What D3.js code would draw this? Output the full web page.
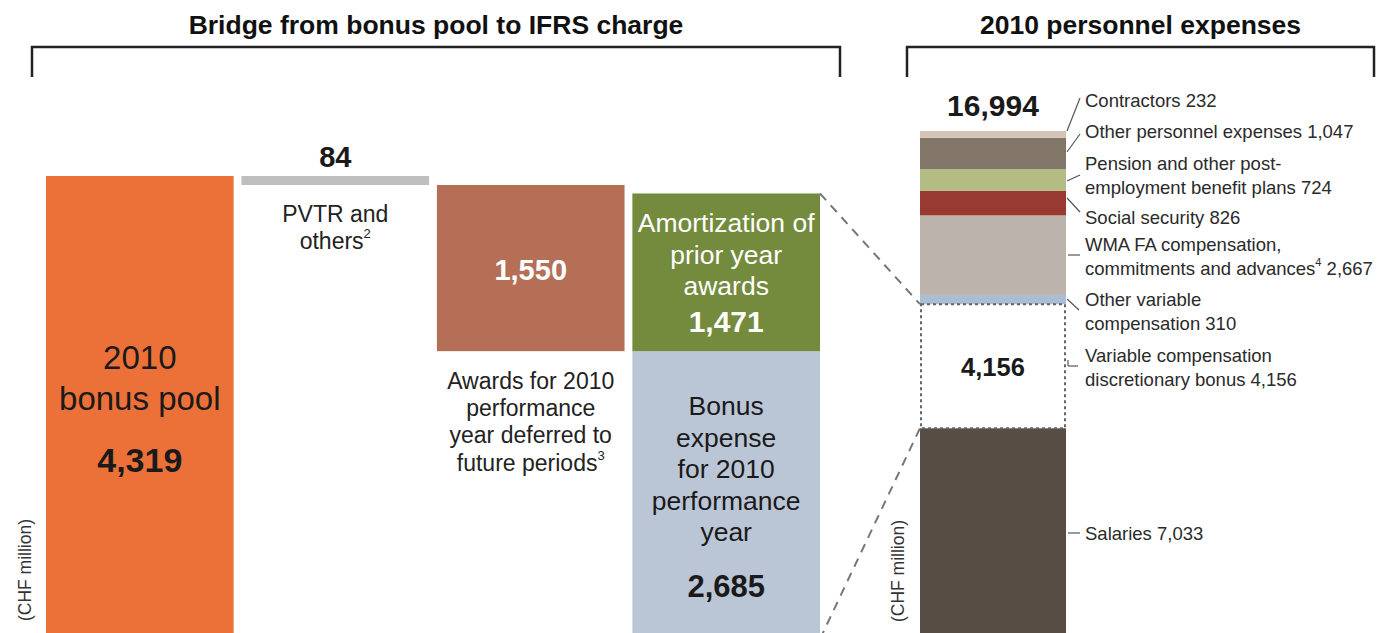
<!DOCTYPE html>
<html>
<head>
<meta charset="utf-8">
<script src="https://cdn.jsdelivr.net/npm/d3@7"></script>
<style>
  body { margin: 0; background: #fff; }
  svg { display: block; font-family: "Liberation Sans", Arial, sans-serif; }
</style>
</head>
<body>
<div class="container"></div>
<script>
// bridge from bonus pool to IFRS charge (CHF million)
const bridgeColumns = ["pool", "pvtr", "deferred", "expense"]
const bridgeNames = ["2010 bonus pool", "PVTR and others", "Awards deferred", "Bonus expense", "Amortization of prior year awards"]
const bridgeValues = [4319, -84, -1550, 2685, 1471]
const bridgeCols = ["pool", "pvtr", "deferred", "expense", "expense"]
const bridgeColors = ["#ec7139", "#bebebe", "#b46f56", "#bac5d6", "#748b3e"]

// 2010 personnel expenses, bottom to top
const personnelNames = ["Salaries", "Variable compensation discretionary bonus", "Other variable compensation",
  "WMA FA compensation, commitments and advances", "Social security", "Pension and other post-employment benefit plans",
  "Other personnel expenses", "Contractors"]
const personnelValues = [7033, 4156, 310, 2667, 826, 724, 1047, 232]
const personnelColors = ["#574d44", "none", "#a9bed3", "#bbb3ac", "#983a31", "#b3bc82", "#827669", "#d3c4b6"]
const personnelTotal = 16994

const w = 1381
const h = 633
const baseY = 639

const svg = d3.select(".container")
  .append("svg")
  .attr("width", w)
  .attr("height", h)

// brackets + titles
const brackets = [
  {x1: 32, x2: 840, title: "Bridge from bonus pool to IFRS charge"},
  {x1: 907, x2: 1374, title: "2010 personnel expenses"}
]
brackets.forEach(b => {
  svg.append("path")
    .attr("d", `M${b.x1},77 V47 H${b.x2} V77`)
    .attr("fill", "none")
    .attr("stroke", "#222")
    .attr("stroke-width", 2.5)
  svg.append("text")
    .attr("x", (b.x1 + b.x2) / 2)
    .attr("y", 25)
    .attr("text-anchor", "middle")
    .attr("dominant-baseline", "central")
    .attr("font-size", 26.5)
    .attr("font-weight", "bold")
    .attr("fill", "#111")
    .text(b.title)
})

// ---- left waterfall ----
const xScale = d3.scaleBand().domain(bridgeColumns).range([46, 820]).paddingInner(0.04)
const yScale = d3.scaleLinear().domain([0, 4319]).range([baseY, 176])

// running totals for the waterfall
let running = 0
const steps = bridgeValues.map((v, i) => {
  let lo, hi
  if (i === 0) { lo = 0; hi = v; running = v }
  else if (v < 0) { hi = running; lo = running + v; running = lo }
  else if (i === 3) { lo = 0; hi = v; running = v }
  else { lo = running; hi = running + v; running = hi }
  return {name: bridgeNames[i], col: bridgeCols[i], lo, hi, color: bridgeColors[i]}
})

svg.selectAll("rect.bridge")
  .data(steps)
  .enter()
  .append("rect")
  .attr("class", "bridge")
  .attr("x", d => xScale(d.col))
  .attr("y", d => yScale(d.hi))
  .attr("width", xScale.bandwidth())
  .attr("height", d => yScale(d.lo) - yScale(d.hi))
  .attr("fill", d => d.color)

const cx = c => xScale(c) + xScale.bandwidth() / 2
const fmt = d3.format(",")

const addText = (x, y, str, size, opts = {}) => {
  return svg.append("text")
    .attr("x", x)
    .attr("y", y)
    .attr("text-anchor", opts.anchor || "middle")
    .attr("dominant-baseline", "central")
    .attr("font-size", size)
    .attr("font-weight", opts.bold ? "bold" : "normal")
    .attr("fill", opts.fill || "#1a1a1a")
    .text(str)
}

// bonus pool
addText(cx("pool"), 357, "2010", 33)
addText(cx("pool"), 398, "bonus pool", 33)
addText(cx("pool"), 460, fmt(bridgeValues[0]), 34, {bold: true})

// pvtr
addText(cx("pvtr"), 157, fmt(-bridgeValues[1]), 29, {bold: true})
addText(cx("pvtr"), 214, "PVTR and", 23, {fill: "#222"})
addText(cx("pvtr"), 241, "others", 23, {fill: "#222"})
  .append("tspan").attr("baseline-shift", "super").attr("font-size", 13).text("2")

// deferred
addText(cx("deferred"), (yScale(steps[2].hi) + yScale(steps[2].lo)) / 2 + 2, fmt(-bridgeValues[2]), 29, {bold: true, fill: "#fff"})
const deferredLines = ["Awards for 2010", "performance", "year deferred to", "future periods"]
deferredLines.forEach((t, i) => {
  const el = addText(cx("deferred"), 381 + i * 27.2, t, 23, {fill: "#222"})
  if (i === 3) el.append("tspan").attr("baseline-shift", "super").attr("font-size", 13).text("3")
})

// amortization
const amortLines = ["Amortization of", "prior year", "awards"]
amortLines.forEach((t, i) => addText(cx("expense"), 223 + i * 31.5, t, 26.5, {fill: "#fff"}))
addText(cx("expense"), 321, fmt(bridgeValues[4]), 30, {bold: true, fill: "#fff"})

// bonus expense
const expenseLines = ["Bonus", "expense", "for 2010", "performance", "year"]
expenseLines.forEach((t, i) => addText(cx("expense"), 406 + i * 31.6, t, 26.5))
addText(cx("expense"), 586, fmt(bridgeValues[3]), 31, {bold: true})

// ---- right stack ----
const sx = 920, sw = 146
const yR = d3.scaleLinear().domain([0, personnelTotal]).range([638, 131])
let acc = 0
const segs = personnelValues.map((v, i) => {
  const s = {name: personnelNames[i], lo: acc, hi: acc + v, color: personnelColors[i]}
  acc += v
  return s
})

svg.selectAll("rect.stack")
  .data(segs)
  .enter()
  .append("rect")
  .attr("class", "stack")
  .attr("x", sx)
  .attr("y", d => yR(d.hi))
  .attr("width", sw)
  .attr("height", d => yR(d.lo) - yR(d.hi))
  .attr("fill", d => d.color === "none" ? "#fff" : d.color)

// dotted box for discretionary bonus
const bonusSeg = segs[1]
svg.append("rect")
  .attr("x", sx + 1)
  .attr("y", yR(bonusSeg.hi))
  .attr("width", sw - 2)
  .attr("height", yR(bonusSeg.lo) - yR(bonusSeg.hi))
  .attr("fill", "none")
  .attr("stroke", "#666")
  .attr("stroke-width", 2)
  .attr("stroke-dasharray", "3,3")

addText(sx + sw / 2, 105, fmt(personnelTotal), 30, {bold: true})
addText(sx + sw / 2, 367, fmt(bonusSeg.hi - bonusSeg.lo), 25.5, {bold: true})

// connectors from bridge to stack
const gx = xScale("expense") + xScale.bandwidth()
const connectors = [
  [gx, yScale(steps[4].hi), sx, yR(bonusSeg.hi)],
  [gx, yScale(0), sx, yR(bonusSeg.lo)]
]
connectors.forEach(c => {
  svg.append("line")
    .attr("x1", c[0]).attr("y1", c[1])
    .attr("x2", c[2]).attr("y2", c[3])
    .attr("stroke", "#777")
    .attr("stroke-width", 2)
    .attr("stroke-dasharray", "9,7")
})

// labels with leader lines
const labelX = 1085
const labelLines = [
  ["Salaries 7,033"],
  ["Variable compensation", "discretionary bonus 4,156"],
  ["Other variable", "compensation 310"],
  ["WMA FA compensation,", "commitments and advances|4| 2,667"],
  ["Social security 826"],
  ["Pension and other post-", "employment benefit plans 724"],
  ["Other personnel expenses 1,047"],
  ["Contractors 232"]
]
const labelY = [533, 355, 299, 244, 217, 163, 131, 100]
const leaders = [
  [1068, 533, 1080, 533],
  [1068, 366, 1078, 366],
  [1067, 299, 1079, 310],
  [1068, 255, 1080, 255],
  [1067, 198, 1080, 212],
  [1067, 181, 1080, 175],
  [1067, 152, 1080, 134],
  [1067, 131, 1080, 98]
]
labelLines.forEach((lines, i) => {
  lines.forEach((t, j) => {
    const el = svg.append("text")
      .attr("x", labelX)
      .attr("y", labelY[i] + j * 23.5)
      .attr("dominant-baseline", "central")
      .attr("font-size", 18.5)
      .attr("fill", "#2a2a2a")
    const parts = t.split("|")
    el.append("tspan").text(parts[0])
    if (parts.length > 1) {
      el.append("tspan").attr("baseline-shift", "super").attr("font-size", 11).text(parts[1])
      el.append("tspan").text(parts[2])
    }
  })
  const l = leaders[i]
  svg.append("line")
    .attr("x1", l[0]).attr("y1", l[1])
    .attr("x2", l[2]).attr("y2", l[3])
    .attr("stroke", "#555")
    .attr("stroke-width", 1.2)
})
// small tick on the discretionary bonus leader
svg.append("line").attr("x1", 1068).attr("y1", 360).attr("x2", 1068).attr("y2", 366)
  .attr("stroke", "#555").attr("stroke-width", 1.2)

// unit labels
;[[25, 570], [898, 571]].forEach(p => {
  svg.append("text")
    .attr("transform", `translate(${p[0]},${p[1]}) rotate(-90)`)
    .attr("text-anchor", "middle")
    .attr("dominant-baseline", "central")
    .attr("font-size", 17.5)
    .attr("fill", "#333")
    .text("(CHF million)")
})
</script>
</body>
</html>
